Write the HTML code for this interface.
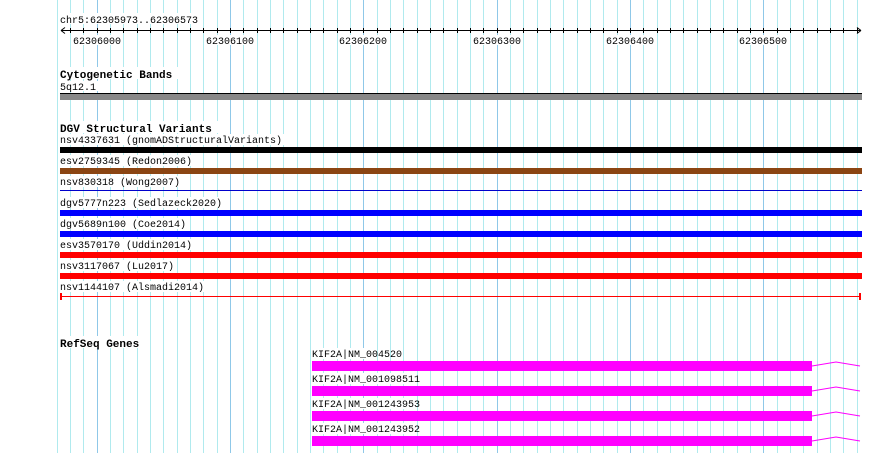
<!DOCTYPE html>
<html><head><meta charset="utf-8"><style>
html,body{margin:0;padding:0;background:#fff;}
svg{display:block;}
text{font-family:"Liberation Mono","DejaVu Sans Mono",monospace;font-size:10px;fill:#000;}
.b{font-weight:bold;font-size:11px;}
</style></head><body>
<svg width="890" height="453" xmlns="http://www.w3.org/2000/svg">
<path stroke="#b0eaee" stroke-width="1" fill="none" d="M57.5 0V453M70.5 0V453M83.5 0V453M110.5 0V453M123.5 0V453M137.5 0V453M150.5 0V453M163.5 0V453M177.5 0V453M190.5 0V453M203.5 0V453M217.5 0V453M243.5 0V453M257.5 0V453M270.5 0V453M283.5 0V453M297.5 0V453M310.5 0V453M323.5 0V453M337.5 0V453M350.5 0V453M377.5 0V453M390.5 0V453M403.5 0V453M417.5 0V453M430.5 0V453M443.5 0V453M457.5 0V453M470.5 0V453M483.5 0V453M510.5 0V453M523.5 0V453M537.5 0V453M550.5 0V453M563.5 0V453M577.5 0V453M590.5 0V453M603.5 0V453M617.5 0V453M643.5 0V453M657.5 0V453M670.5 0V453M683.5 0V453M697.5 0V453M710.5 0V453M723.5 0V453M737.5 0V453M750.5 0V453M777.5 0V453M790.5 0V453M803.5 0V453M817.5 0V453M830.5 0V453M843.5 0V453M857.5 0V453"/>
<path stroke="#8fc8e8" stroke-width="1" fill="none" d="M97.5 0V453M230.5 0V453M363.5 0V453M497.5 0V453M630.5 0V453M763.5 0V453"/>
<g fill="#fff">
<rect x="60" y="13" width="140" height="11"/>
<rect x="60" y="67" width="120" height="12"/><rect x="60" y="81" width="40" height="10"/>
<rect x="60" y="121" width="162" height="12"/>
<rect x="60" y="134" width="224" height="11"/><rect x="60" y="155" width="133" height="11"/>
<rect x="60" y="176" width="122" height="11"/><rect x="60" y="197" width="164" height="11"/>
<rect x="60" y="218" width="128" height="11"/><rect x="60" y="239" width="134" height="11"/>
<rect x="60" y="260" width="116" height="11"/><rect x="60" y="281" width="146" height="11"/>
<rect x="60" y="336" width="86" height="12"/>
<rect x="312" y="348" width="64" height="11"/><rect x="312" y="373" width="92" height="11"/>
<rect x="312" y="398" width="92" height="11"/><rect x="312" y="423" width="92" height="11"/>
<rect x="73" y="35" width="48" height="10"/><rect x="206" y="35" width="48" height="10"/>
<rect x="339" y="35" width="48" height="10"/><rect x="473" y="35" width="48" height="10"/>
<rect x="606" y="35" width="48" height="10"/><rect x="739" y="35" width="48" height="10"/>
</g>
<text x="60" y="23">chr5:62305973..62306573</text>
<line x1="61" y1="30.5" x2="861" y2="30.5" stroke="#000"/>
<path d="M61 30.5 l4 -3 M61 30.5 l4 3 M861 30.5 l-4 -3 M861 30.5 l-4 3" stroke="#000" fill="none"/>
<path stroke="#000" fill="none" d="M70.5 28V33M83.5 28V33M97.5 28V33M110.5 28V33M123.5 28V33M137.5 28V33M150.5 28V33M163.5 28V33M177.5 28V33M190.5 28V33M203.5 28V33M217.5 28V33M230.5 28V33M243.5 28V33M257.5 28V33M270.5 28V33M283.5 28V33M297.5 28V33M310.5 28V33M323.5 28V33M337.5 28V33M350.5 28V33M363.5 28V33M377.5 28V33M390.5 28V33M403.5 28V33M417.5 28V33M430.5 28V33M443.5 28V33M457.5 28V33M470.5 28V33M483.5 28V33M497.5 28V33M510.5 28V33M523.5 28V33M537.5 28V33M550.5 28V33M563.5 28V33M577.5 28V33M590.5 28V33M603.5 28V33M617.5 28V33M630.5 28V33M643.5 28V33M657.5 28V33M670.5 28V33M683.5 28V33M697.5 28V33M710.5 28V33M723.5 28V33M737.5 28V33M750.5 28V33M763.5 28V33M777.5 28V33M790.5 28V33M803.5 28V33M817.5 28V33M830.5 28V33M843.5 28V33M857.5 28V33"/>
<g text-anchor="middle">
<text x="97" y="44">62306000</text><text x="230" y="44">62306100</text><text x="363" y="44">62306200</text>
<text x="497" y="44">62306300</text><text x="630" y="44">62306400</text><text x="763" y="44">62306500</text>
</g>
<text class="b" x="60" y="78">Cytogenetic Bands</text>
<text x="60" y="90">5q12.1</text>
<rect x="60" y="93" width="802" height="7" fill="#888"/>
<line x1="60" y1="93.5" x2="862" y2="93.5" stroke="#000"/>
<text class="b" x="60" y="132">DGV Structural Variants</text>
<text x="60" y="143">nsv4337631 (gnomADStructuralVariants)</text>
<rect x="60" y="147" width="802" height="6" fill="#000"/>
<text x="60" y="164">esv2759345 (Redon2006)</text>
<rect x="60" y="168" width="802" height="6" fill="#8b4513"/>
<text x="60" y="185">nsv830318 (Wong2007)</text>
<line x1="60" y1="190.5" x2="862" y2="190.5" stroke="#0000cc"/>
<text x="60" y="206">dgv5777n223 (Sedlazeck2020)</text>
<rect x="60" y="210" width="802" height="6" fill="#0000ff"/>
<text x="60" y="227">dgv5689n100 (Coe2014)</text>
<rect x="60" y="231" width="802" height="6" fill="#0000ff"/>
<text x="60" y="248">esv3570170 (Uddin2014)</text>
<rect x="60" y="252" width="802" height="6" fill="#ff0000"/>
<text x="60" y="269">nsv3117067 (Lu2017)</text>
<rect x="60" y="273" width="802" height="6" fill="#ff0000"/>
<text x="60" y="290">nsv1144107 (Alsmadi2014)</text>
<line x1="60" y1="296.5" x2="861" y2="296.5" stroke="#ff0000"/>
<line x1="61" y1="293" x2="61" y2="300" stroke="#ff0000" stroke-width="2"/>
<line x1="860" y1="293" x2="860" y2="300" stroke="#ff0000" stroke-width="2"/>
<text class="b" x="60" y="347">RefSeq Genes</text>
<text x="312" y="357">KIF2A|NM_004520</text>
<rect x="312" y="361" width="500" height="10" fill="#ff00ff"/>
<polyline points="812,366 836,362 860,366" fill="none" stroke="#ff00ff"/>
<text x="312" y="382">KIF2A|NM_001098511</text>
<rect x="312" y="386" width="500" height="10" fill="#ff00ff"/>
<polyline points="812,391 836,387 860,391" fill="none" stroke="#ff00ff"/>
<text x="312" y="407">KIF2A|NM_001243953</text>
<rect x="312" y="411" width="500" height="10" fill="#ff00ff"/>
<polyline points="812,416 836,412 860,416" fill="none" stroke="#ff00ff"/>
<text x="312" y="432">KIF2A|NM_001243952</text>
<rect x="312" y="436" width="500" height="10" fill="#ff00ff"/>
<polyline points="812,441 836,437 860,441" fill="none" stroke="#ff00ff"/>
</svg>
</body></html>
